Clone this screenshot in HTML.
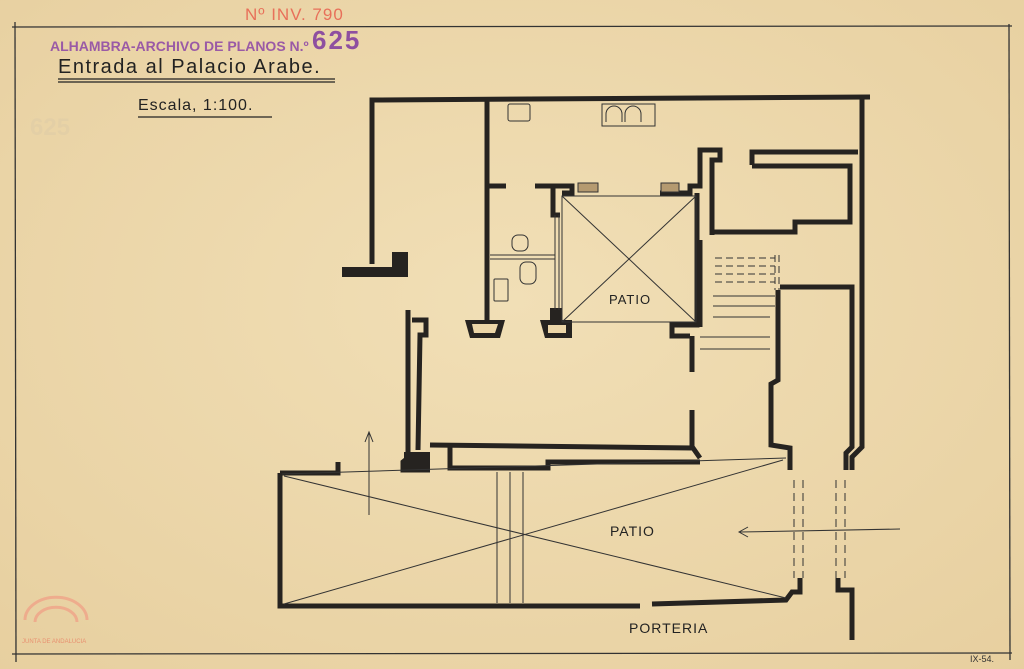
<!DOCTYPE html>
<html><head><meta charset="utf-8"><style>
body{margin:0;width:1024px;height:669px;overflow:hidden;background:#ecd6a8;}
svg{display:block}
text{font-family:"Liberation Sans",sans-serif;}
</style></head><body>
<svg width="1024" height="669" viewBox="0 0 1024 669">
<defs>
<radialGradient id="g" cx="50%" cy="45%" r="75%"><stop offset="0" stop-color="#f1dfb6"/><stop offset="1" stop-color="#e7cf9f"/></radialGradient>
</defs>
<rect width="1024" height="669" fill="url(#g)"/>
<g stroke="#333" stroke-width="1.3" fill="none">
<line x1="12" y1="27" x2="1012" y2="26"/>
<line x1="15" y1="22" x2="16" y2="662"/>
<line x1="12" y1="654" x2="1012" y2="653"/>
<line x1="1009" y1="24" x2="1010" y2="660"/>
</g>
<text x="245" y="20" fill="#e8705a" font-size="17" letter-spacing="1">Nº INV. 790</text>
<text x="50" y="51" fill="#9a5aa6" font-size="14" font-weight="bold">ALHAMBRA-ARCHIVO DE PLANOS N.º</text>
<text x="312" y="49" fill="#8e4fa0" font-size="26" font-weight="bold" font-family="Liberation Serif" letter-spacing="2">625</text>
<text x="30" y="135" fill="#e3cfa6" font-size="24" font-weight="bold">625</text>
<text x="58" y="73" fill="#222" font-size="20" letter-spacing="1.5">Entrada al Palacio Arabe.</text>
<line x1="58" y1="79" x2="335" y2="79" stroke="#222" stroke-width="1.2"/>
<line x1="58" y1="82" x2="335" y2="82" stroke="#222" stroke-width="1.2"/>
<text x="138" y="110" fill="#222" font-size="16" letter-spacing="1">Escala, 1:100.</text>
<line x1="138" y1="117" x2="272" y2="117" stroke="#222" stroke-width="1.2"/>
<g stroke="#262320" stroke-width="5" fill="none" stroke-linejoin="miter">
<polyline points="372,264 372,100 870,97"/>
<polyline points="862,97 862,447 852,457 852,470"/>
<line x1="487" y1="100" x2="487" y2="322"/>
<line x1="487" y1="186" x2="506" y2="186"/>
<polyline points="535,186 572,186 572,193 562,193"/>
<polyline points="553,186 553,215 560,215"/>
<polyline points="660,193 690,193 690,186 700,186 700,150 720,150 720,160 712,160 712,235"/>
<polyline points="697,193 697,325 672,325 672,336 690,336"/>
<line x1="692" y1="336" x2="692" y2="372"/>
<line x1="692" y1="410" x2="692" y2="448"/>
<polyline points="752,165 752,152 858,152"/>
<polyline points="752,166 850,166 850,222 795,222 795,232 712,232"/>
<polyline points="780,287 852,287 852,447 846,453 846,470"/>
<polyline points="778,290 778,380 771,384 771,445 790,448 790,470"/>
<polyline points="408,310 408,458 403,462 403,470 430,470"/>
<polyline points="412,320 426,320 426,335 420,335 418,450"/>
<polyline points="430,445 693,448 700,458"/>
<polyline points="450,445 450,468 548,468 548,462 700,462"/>
<polyline points="280,473 280,606 640,606"/>
<polyline points="652,604 786,600 792,592 800,592 800,578"/>
<polyline points="838,578 838,590 852,590 852,640"/>
<polyline points="280,473 338,473 338,462"/>
<line x1="700" y1="240" x2="700" y2="327"/>
</g>
<g fill="#262320">
<rect x="342" y="267" width="66" height="10"/>
<rect x="392" y="252" width="16" height="18"/>
<polygon points="465,320 505,320 500,338 470,338"/>
<polygon points="540,320 572,320 572,338 545,338"/>
<rect x="550" y="308" width="12" height="14"/>
<rect x="404" y="452" width="26" height="20"/>
</g>
<g fill="#ecd6a8"><polygon points="472,324 498,324 495,333 474,333"/><rect x="548" y="325" width="18" height="8"/></g>
<g fill="#b59a70" stroke="#333" stroke-width="1"><rect x="578" y="183" width="20" height="9"/><rect x="661" y="183" width="18" height="9"/></g>
<g stroke="#333" stroke-width="1" fill="none">
<rect x="562" y="196" width="134" height="126"/>
<line x1="562" y1="196" x2="696" y2="322"/><line x1="696" y1="196" x2="562" y2="322"/>
<line x1="555" y1="215" x2="555" y2="310"/><line x1="559" y1="215" x2="559" y2="310"/>
<line x1="490" y1="255" x2="555" y2="255"/><line x1="490" y1="259" x2="555" y2="259"/>
<rect x="508" y="104" width="22" height="17" rx="2"/>
<path d="M602 104 H655 V126 H602 Z M606 122 V114 a8 8 0 0 1 16 0 V122 M625 122 V114 a8 8 0 0 1 16 0 V122"/>
<rect x="512" y="235" width="16" height="16" rx="6"/><rect x="520" y="262" width="16" height="22" rx="6"/>
<rect x="494" y="279" width="14" height="22" rx="1"/>
<g stroke-dasharray="7,4"><line x1="715" y1="258" x2="775" y2="258"/><line x1="715" y1="266" x2="775" y2="266"/><line x1="715" y1="274" x2="775" y2="274"/><line x1="715" y1="282" x2="775" y2="282"/><line x1="775" y1="255" x2="775" y2="290"/><line x1="779" y1="255" x2="779" y2="290"/></g>
<line x1="713" y1="296" x2="775" y2="296"/><line x1="713" y1="306" x2="775" y2="306"/><line x1="713" y1="317" x2="770" y2="317"/><line x1="700" y1="337" x2="770" y2="337"/><line x1="700" y1="349" x2="770" y2="349"/>
<line x1="282" y1="474" x2="786" y2="458"/>
<line x1="284" y1="476" x2="786" y2="598"/><line x1="284" y1="604" x2="783" y2="460"/>
<line x1="497" y1="472" x2="497" y2="603"/><line x1="510" y1="472" x2="510" y2="603"/><line x1="523" y1="472" x2="523" y2="603"/>
<g stroke-dasharray="8,5"><line x1="794" y1="480" x2="794" y2="578"/><line x1="803" y1="480" x2="803" y2="578"/><line x1="836" y1="480" x2="836" y2="578"/><line x1="845" y1="480" x2="845" y2="578"/></g>
<line x1="369" y1="515" x2="369" y2="433"/><polyline points="365,442 369,432 373,442"/>
<line x1="900" y1="529" x2="740" y2="532"/><polyline points="748,527 739,532 748,537"/>
</g>
<text x="609" y="304" font-size="13" fill="#222" letter-spacing="1">PATIO</text>
<text x="610" y="536" font-size="14" fill="#222" letter-spacing="1">PATIO</text>
<text x="629" y="633" font-size="14" fill="#222" letter-spacing="1">PORTERIA</text>
<text x="970" y="662" font-size="9" fill="#333">IX-54.</text>
<g stroke="#f0a488" fill="none" stroke-width="3" opacity="0.8"><path d="M25 620 a30 22 0 0 1 62 0"/><path d="M35 622 a20 14 0 0 1 42 0"/></g>
<text x="22" y="643" font-size="6" fill="#e89070">JUNTA DE ANDALUCIA</text>
</svg>
</body></html>
